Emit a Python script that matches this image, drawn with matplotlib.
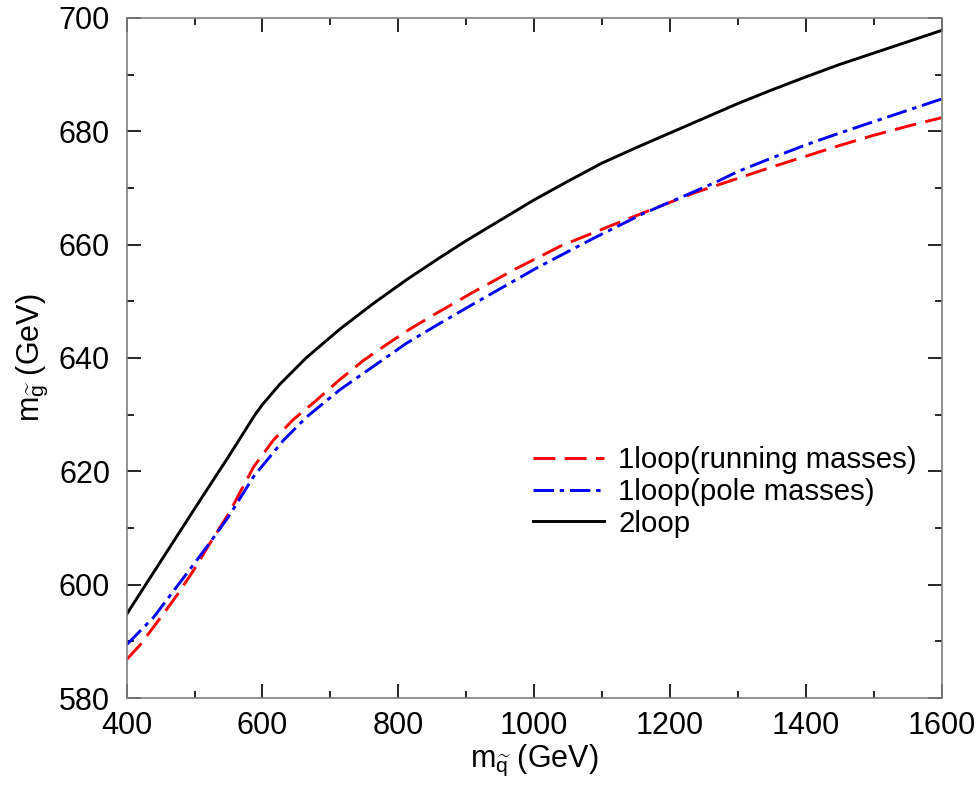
import matplotlib
matplotlib.use("Agg")
import matplotlib.pyplot as plt
from matplotlib.ticker import MultipleLocator

plt.rcParams['font.family'] = ['Liberation Sans', 'DejaVu Sans']
plt.rcParams['mathtext.fontset'] = 'custom'
plt.rcParams['mathtext.rm'] = 'Liberation Sans'
plt.rcParams['mathtext.it'] = 'Liberation Sans'
plt.rcParams['mathtext.bf'] = 'Liberation Sans:bold'

# data
x_2loop = [400, 450, 500, 550, 589, 600, 625, 665, 714, 763, 812, 861, 900, 950, 1000,
           1050, 1100, 1150, 1200, 1250, 1300, 1350, 1400, 1450, 1500, 1550, 1600]
y_2loop = [594.8, 604.1, 613.4, 622.6, 630.0, 631.8, 635.3, 640.1, 645.1, 649.6, 653.8, 657.7, 660.7, 664.3, 667.9,
           671.2, 674.4, 677.1, 679.7, 682.3, 684.9, 687.3, 689.6, 691.8, 693.8, 695.8, 697.8]

x_run = [400, 420, 450, 475, 500, 520, 550, 587, 616, 645, 680, 714, 749, 783, 817, 852, 910, 974,
         1038, 1112, 1171, 1235, 1300, 1350, 1400, 1450, 1500, 1550, 1600]
y_run = [586.8, 589.4, 594.2, 598.3, 602.8, 606.8, 612.5, 620.8, 625.5, 629.1, 632.6, 636.2, 639.6, 642.4, 645.1, 647.6, 651.6, 655.8,
         659.7, 663.3, 666.1, 669.1, 671.7, 673.7, 675.6, 677.5, 679.3, 680.9, 682.4]

x_pole = [400, 440, 500, 520, 550, 587, 631, 665, 714, 763, 812, 861, 910, 1004, 1087, 1161,
          1225, 1269, 1300, 1350, 1400, 1450, 1500, 1550, 1600]
y_pole = [589.4, 594.3, 603.8, 607.0, 612.0, 619.1, 625.5, 629.6, 634.4, 638.5, 642.6, 646.1, 649.5, 655.9, 661.1, 665.5,
          668.8, 671.1, 672.9, 675.3, 677.6, 679.7, 681.7, 683.7, 685.7]

labels = ['1loop(running masses)', '1loop(pole masses)', '2loop']

FS = 22

fig = plt.figure(figsize=(9.76, 7.85), dpi=100)
ax = fig.add_axes([0.1298, 0.1108, 0.8349, 0.8663])

ax.plot(x_run, y_run, color='#ff0000', lw=2.1, dashes=(7.5, 3.2), label=labels[0])
ax.plot(x_pole, y_pole, color='#0000ff', lw=2.1, dashes=(7, 2, 1.5, 2), label=labels[1])
ax.plot(x_2loop, y_2loop, color='black', lw=2.1, label=labels[2])

ax.set_xlim(400, 1600)
ax.set_ylim(580, 700)
ax.xaxis.set_major_locator(MultipleLocator(200))
ax.xaxis.set_minor_locator(MultipleLocator(100))
ax.yaxis.set_major_locator(MultipleLocator(20))
ax.yaxis.set_minor_locator(MultipleLocator(10))
ax.tick_params(which='both', direction='in', top=True, right=True, colors='black', labelsize=FS, width=1.2)
ax.tick_params(which='major', length=10)
ax.tick_params(axis='y', which='major', pad=12)
ax.tick_params(axis='x', which='major', pad=9)
ax.tick_params(which='minor', length=5)
for s in ax.spines.values():
    s.set_color('#808080')
    s.set_linewidth(1.2)

ax.set_xlabel(r'$\mathregular{m}_{\widetilde{\mathregular{q}}}$ (GeV)', fontsize=FS, labelpad=2)
ax.set_ylabel(r'$\mathregular{m}_{\widetilde{\mathregular{g}}}$ (GeV)', fontsize=FS, labelpad=6)

ax.legend(loc='center left', bbox_to_anchor=(0.4987, 0.303), frameon=False, fontsize=21.2,
          handlelength=2.4, handletextpad=0.5, labelspacing=0.12, borderaxespad=0, borderpad=0)

fig.savefig('out.png', dpi=100)
